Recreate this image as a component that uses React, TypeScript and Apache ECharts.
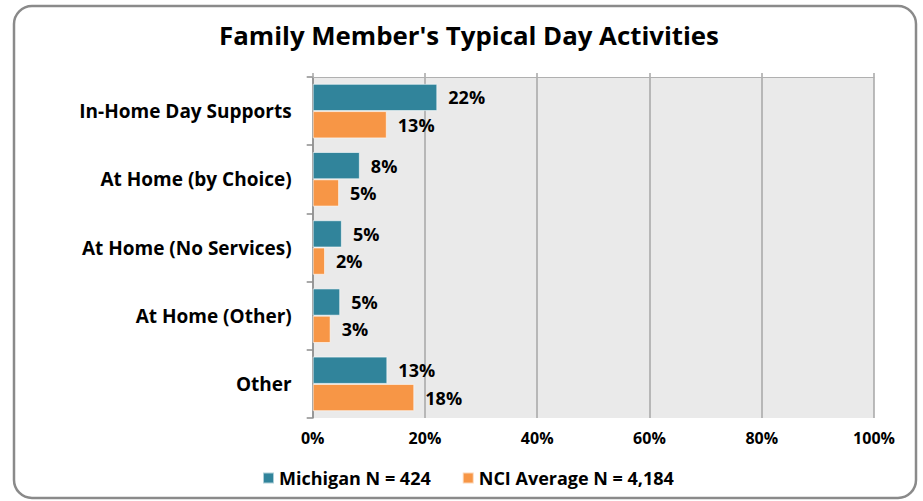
import React, { useEffect, useRef } from "react";
import * as echarts from "echarts";

const categories = [
  "In-Home Day Supports",
  "At Home (by Choice)",
  "At Home (No Services)",
  "At Home (Other)",
  "Other",
];
const michigan = [22.2, 8.4, 5.2, 4.9, 13.3];
const nciAverage = [13.2, 4.7, 2.2, 3.2, 18.1];
const seriesNames = ["Michigan N = 424", "NCI Average N = 4,184"];
const title = "Family Member's Typical Day Activities";

const FONT = "'Open Sans', 'Noto Sans', sans-serif";

export default function App() {
  const ref = useRef<HTMLDivElement>(null);
  useEffect(() => {
    document.body.style.margin = "0";
    const chart = echarts.init(ref.current!, null, { renderer: "svg" });
    const labelCfg = {
      show: true,
      position: "right",
      distance: 11,
      fontFamily: FONT,
      fontWeight: "bold",
      fontSize: 18,
      color: "#000",
      formatter: (p: any) => Math.round(p.value) + "%",
    };
    chart.setOption({
      animation: false,
      backgroundColor: "#fff",
      title: {
        text: title,
        left: 464,
        textAlign: "center",
        top: 17,
        textStyle: { fontFamily: FONT, fontWeight: "bold", fontSize: 25.8, color: "#000" },
      },
      graphic: [
        {
          type: "rect",
          shape: { x: 14, y: 6, width: 902, height: 492, r: 18 },
          style: { fill: "none", stroke: "#8a8a8a", lineWidth: 2.5 },
          z: 100,
        },
      ],
      legend: {
        bottom: 9,
        left: 257,
        icon: "rect",
        itemWidth: 11,
        itemHeight: 11,
        itemGap: 31,
        textStyle: { fontFamily: FONT, fontWeight: "bold", fontSize: 18, color: "#000" },
        data: seriesNames,
      },
      grid: {
        left: 312.7,
        right: 49,
        top: 77,
        bottom: 83,
        show: true,
        backgroundColor: "#eaeaea",
        borderWidth: 0,
      },
      xAxis: [
        {
          type: "value",
          min: 0,
          max: 100,
          interval: 20,
          position: "bottom",
          axisLine: { show: false },
          axisTick: { show: false },
          splitLine: { show: true, lineStyle: { color: "#a6a6a6", width: 1.5 } },
          axisLabel: {
            formatter: "{value}%",
            margin: 12,
            fontFamily: FONT,
            fontWeight: "bold",
            fontSize: 16,
            color: "#000",
          },
        },
        {
          type: "value",
          min: 0,
          max: 100,
          interval: 20,
          position: "top",
          axisLine: { show: true, lineStyle: { color: "#b0b0b0", width: 1 } },
          axisTick: { show: true, length: 4, lineStyle: { color: "#a6a6a6", width: 1.5 } },
          splitLine: { show: false },
          axisLabel: { show: false },
        },
      ],
      yAxis: {
        type: "category",
        inverse: true,
        data: categories,
        axisLine: { show: true, lineStyle: { color: "#8c8c8c", width: 1.5 } },
        axisTick: { show: true, length: 6, lineStyle: { color: "#8c8c8c", width: 1.5 } },
        axisLabel: {
          margin: 21,
          fontFamily: FONT,
          fontWeight: "bold",
          fontSize: 19,
          color: "#000",
        },
      },
      series: [
        {
          name: seriesNames[0],
          type: "bar",
          data: michigan,
          barGap: "0%",
          barCategoryGap: "20%",
          itemStyle: { color: "#31849b", borderColor: "rgba(255,255,255,0.6)", borderWidth: 1 },
          label: labelCfg,
        },
        {
          name: seriesNames[1],
          type: "bar",
          data: nciAverage,
          barGap: "0%",
          barCategoryGap: "20%",
          itemStyle: { color: "#f79646", borderColor: "rgba(255,255,255,0.6)", borderWidth: 1 },
          label: labelCfg,
        },
      ],
    });
    return () => chart.dispose();
  }, []);
  return <div ref={ref} style={{ width: 923, height: 501 }} />;
}
